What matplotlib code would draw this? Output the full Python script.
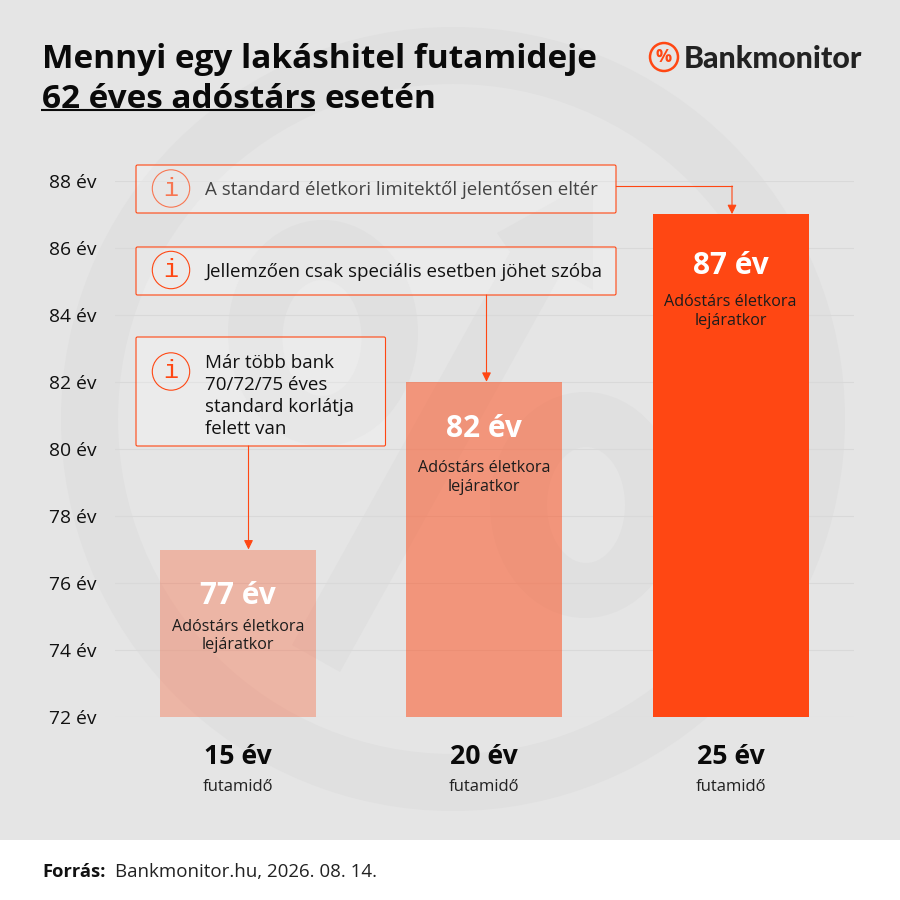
import numpy as np
import matplotlib
matplotlib.use('Agg')
from matplotlib import pylab as plt
from matplotlib.patches import Circle, Ellipse, Polygon, Rectangle, FancyBboxPatch

plt.rcParams['font.family'] = ['Open Sans', 'DejaVu Sans']

terms = ['15 év', '20 év', '25 év']
ages = [77, 82, 87]
bar_labels = ['77 év', '82 év', '87 év']
bar_alpha = [0.3, 0.5, 1.0]
y_ticks = [72, 74, 76, 78, 80, 82, 84, 86, 88]

# a feliratok tavolsaga az oszlop tetejetol (px)
value_offset = [46, 47, 52]
note_offset = [86.5, 95.5, 97.5]

ORANGE = '#ff4713'
BG = '#e5e5e5'
MARK = '#e0e0e0'
W = 900


def px_axes(fig, left, top, right, bottom):
    return fig.add_axes([left / W, 1 - bottom / W, (right - left) / W, (bottom - top) / W])


def draw_watermark(bg):
    # nagy szazalek jel a hatterben
    bg.add_patch(Circle((453, 419), 392, fc=MARK, ec='none'))
    bg.add_patch(Circle((453, 419), 335, fc=BG, ec='none'))
    bg.add_patch(Ellipse((323, 333), 190, 226, fc=MARK, ec='none'))
    bg.add_patch(Ellipse((322, 338), 79, 116, fc=BG, ec='none'))
    bg.add_patch(Ellipse((585, 505), 190, 226, fc=MARK, ec='none'))
    bg.add_patch(Ellipse((586, 505), 78, 116, fc=BG, ec='none'))
    bg.add_patch(Polygon([(593, 180), (593, 290), (562, 272), (340, 672), (292, 645), (510, 252), (497, 233)],
                         fc=MARK, ec='none'))


def draw_callout(ov, left, top, right, bottom, lines, color, icon_y, text_y, icon_alpha=1.0):
    ov.add_patch(FancyBboxPatch((left, top), right - left, bottom - top, boxstyle='round,pad=0,rounding_size=1.5',
                                fc=(1, 1, 1, 0.25), ec=ORANGE, lw=0.8, zorder=5))
    ov.add_patch(Circle((left + 35, icon_y), 18.7, fc='none', ec=ORANGE, lw=0.8, alpha=icon_alpha, zorder=6))
    ov.text(left + 35, icon_y, 'i', color=ORANGE, fontsize=18, ha='center', va='center',
            family='Liberation Mono', alpha=icon_alpha, zorder=6)
    ov.text(left + 69, text_y, lines, color=color, fontsize=13.5, ha='left', va='center',
            linespacing=1.27, zorder=6)


def main():
    fig = plt.figure(figsize=(9, 9), dpi=100, facecolor=BG)

    bg = px_axes(fig, 0, 0, 900, 900)
    bg.set_xlim(0, 900)
    bg.set_ylim(900, 0)
    bg.axis('off')
    draw_watermark(bg)
    bg.add_patch(Rectangle((0, 840), 900, 60, fc='white', ec='none', zorder=3))

    # diagram: 72 ev = 717.2 px, 88 ev = 180.6 px
    ax = px_axes(fig, 115, 180.6, 854, 717.2)
    ax.patch.set_alpha(0)
    x = np.arange(len(terms))
    ax.set_xlim(-0.4995, 2.5015)
    ax.set_ylim(72, 88)
    ax.set_yticks(y_ticks)
    ax.set_yticklabels([f'{v} év' for v in y_ticks], fontsize=13.9, color='#111111')
    ax.set_xticks([])
    ax.tick_params(axis='y', length=0, pad=13.5)
    ax.grid(axis='y', color='#d9d9d9', lw=0.8)
    ax.set_axisbelow(True)
    for s in ax.spines.values():
        s.set_visible(False)

    ax.bar(x, np.array(ages) - 72, bottom=72, width=0.6335, color=ORANGE, zorder=2)
    for patch, a in zip(ax.patches, bar_alpha):
        patch.set_alpha(a)

    for i, age in enumerate(ages):
        ax.annotate(bar_labels[i], (x[i], age), xytext=(0, -value_offset[i]), textcoords='offset pixels',
                    color='white', fontsize=21.5, fontweight='bold', ha='center', va='center', zorder=4)
        ax.annotate('Adóstárs életkora\nlejáratkor', (x[i], age), xytext=(0, -note_offset[i]),
                    textcoords='offset pixels', color='#1c1c1c', fontsize=11.6, ha='center', va='center',
                    linespacing=1.2, zorder=4)
        ax.annotate(terms[i], (x[i], 72), xytext=(0, -40), textcoords='offset pixels', color='#0a0a0a',
                    fontsize=19.2, fontweight='bold', ha='center', va='center', annotation_clip=False)
        ax.annotate('futamidő', (x[i], 72), xytext=(0, -70), textcoords='offset pixels', color='#222222',
                    fontsize=12, ha='center', va='center', annotation_clip=False)

    ov = px_axes(fig, 0, 0, 900, 900)
    ov.set_xlim(0, 900)
    ov.set_ylim(900, 0)
    ov.axis('off')
    ov.patch.set_alpha(0)

    draw_callout(ov, 136, 165, 616, 213, 'A standard életkori limitektől jelentősen eltér', '#444444', 188.5, 190, 0.7)
    draw_callout(ov, 136, 247, 616, 295, 'Jellemzően csak speciális esetben jöhet szóba', '#111111', 270, 272)
    draw_callout(ov, 136, 337, 385.5, 446, 'Már több bank\n70/72/75 éves\nstandard korlátja\nfelett van', '#111111', 371.5, 396)

    # osszekoto nyilak: a vizszintes hely px-ben, a csucs az eletkor erteken
    arrow = dict(arrowstyle='-|>,head_width=0.27,head_length=0.55', color=ORANGE, lw=0.8, shrinkA=0, shrinkB=0)
    for arrow_x, start_y, age in zip([248.5, 486.5, 732], [446, 295, 186], ages):
        ov.annotate('', xy=(arrow_x, age), xycoords=(ov.transData, ax.transData), xytext=(arrow_x, start_y),
                    textcoords='data', arrowprops=arrow, zorder=7)
    ov.plot([616, 732], [186, 186], color=ORANGE, lw=0.8, zorder=7)

    # cim
    ov.text(42, 59, 'Mennyi egy lakáshitel futamideje', fontsize=24, fontweight='bold', color='#0a0a0a',
            va='center')
    ov.text(42, 99, '62 éves adóstárs', fontsize=24, fontweight='bold', color='#0a0a0a', va='center')
    ov.text(325, 99, 'esetén', fontsize=24, fontweight='bold', color='#0a0a0a', va='center')
    ov.plot([41, 315], [110, 110], color='#0a0a0a', lw=1.5, solid_capstyle='butt')

    # logo
    ov.add_patch(Circle((664, 57), 14, fc='none', ec=ORANGE, lw=1.8))
    ov.text(664, 57, '%', color=ORANGE, fontsize=13, fontweight='bold', ha='center', va='center')
    ov.text(684, 59, 'Bankmonitor', fontsize=21.9, family='Lato', fontweight='black', color='#222222', va='center')

    # forras
    ov.text(42, 872, 'Forrás:', fontsize=13.2, fontweight='bold', color='#111111', va='center', zorder=5)
    ov.text(115, 872, 'Bankmonitor.hu, 2026. 08. 14.', fontsize=13.5, color='#222222', va='center', zorder=5)

    fig.savefig('out.png', dpi=100, facecolor=BG)


if __name__ == '__main__':
    main()
